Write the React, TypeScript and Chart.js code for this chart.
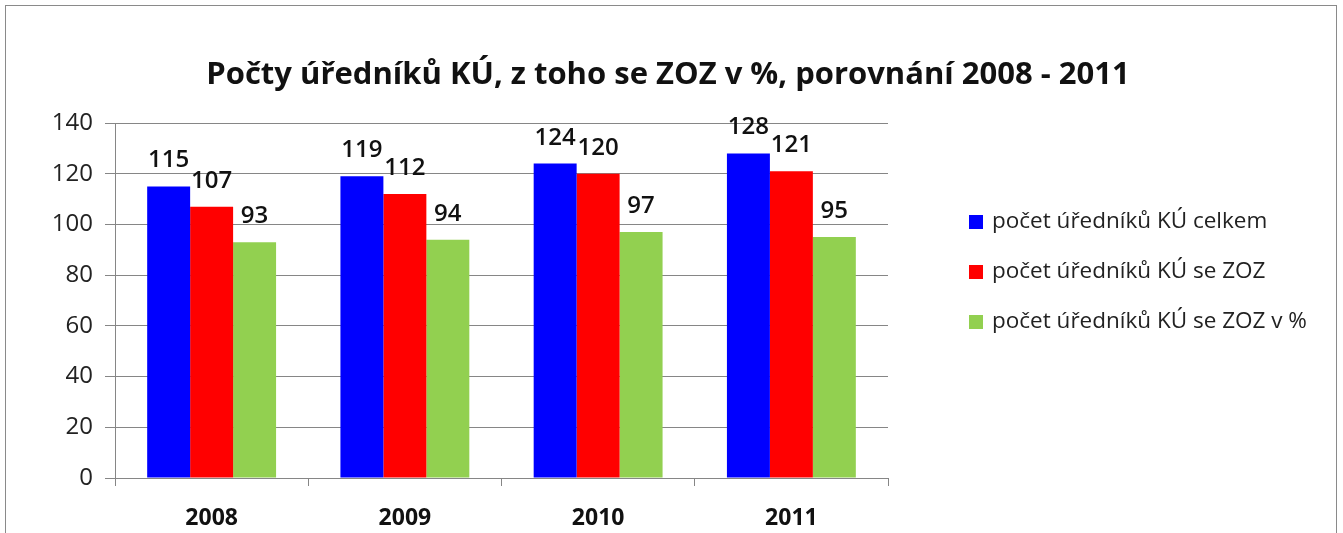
import React, { useEffect, useRef } from "react";
import { Chart, registerables } from "chart.js";

Chart.register(...registerables);

const categories = ["2008", "2009", "2010", "2011"];
const seriesNames = [
  "počet úředníků KÚ celkem",
  "počet úředníků KÚ se ZOZ",
  "počet úředníků KÚ se ZOZ v %",
];
const totalValues = [115, 119, 124, 128];
const zozValues = [107, 112, 120, 121];
const zozPercentValues = [93, 94, 97, 95];
const seriesColors = ["#0000FF", "#FF0000", "#92D050"];
const titleText = "Počty úředníků KÚ, z toho se ZOZ v %, porovnání 2008 - 2011";

const FONT = "'Open Sans', 'DejaVu Sans', sans-serif";

const framePlugin = {
  id: "frame",
  beforeDraw(chart: any) {
    const ctx = chart.ctx;
    ctx.save();
    ctx.fillStyle = "#ffffff";
    ctx.fillRect(0, 0, chart.width, chart.height);
    ctx.strokeStyle = "#8a8a8a";
    ctx.lineWidth = 1;
    ctx.strokeRect(5.5, 5.5, 1331, 560);
    ctx.restore();
  },
};

const titlePlugin = {
  id: "centerTitle",
  afterDraw(chart: any) {
    const ctx = chart.ctx;
    ctx.save();
    ctx.font = `bold 31px ${FONT}`;
    ctx.fillStyle = "#111";
    ctx.textAlign = "center";
    ctx.textBaseline = "alphabetic";
    ctx.fillText(titleText, 668, 84);
    ctx.restore();
  },
};

const labelPlugin = {
  id: "barLabels",
  afterDatasetsDraw(chart: any) {
    const ctx = chart.ctx;
    ctx.save();
    ctx.font = `600 24px ${FONT}`;
    ctx.fillStyle = "#111";
    ctx.textAlign = "center";
    ctx.textBaseline = "alphabetic";
    chart.data.datasets.forEach((ds: any, i: number) => {
      const meta = chart.getDatasetMeta(i);
      meta.data.forEach((bar: any, j: number) => {
        ctx.fillText(String(ds.data[j]), bar.x, bar.y - 19);
      });
    });
    ctx.restore();
  },
};

const legendPlugin = {
  id: "sideLegend",
  afterDraw(chart: any) {
    const ctx = chart.ctx;
    ctx.save();
    ctx.font = `22.5px ${FONT}`;
    ctx.textBaseline = "middle";
    ctx.textAlign = "left";
    chart.data.datasets.forEach((ds: any, i: number) => {
      const cy = 222 + i * 50;
      ctx.fillStyle = ds.backgroundColor;
      ctx.fillRect(969, cy - 7, 14, 14);
      ctx.fillStyle = "#222";
      ctx.fillText(ds.label, 992, cy);
    });
    ctx.restore();
  },
};

export default function App() {
  const ref = useRef<HTMLCanvasElement>(null);
  useEffect(() => {
    if (!ref.current) return;
    const chart = new Chart(ref.current, {
      type: "bar",
      data: {
        labels: categories,
        datasets: [
          { label: seriesNames[0], data: totalValues, backgroundColor: seriesColors[0] },
          { label: seriesNames[1], data: zozValues, backgroundColor: seriesColors[1] },
          { label: seriesNames[2], data: zozPercentValues, backgroundColor: seriesColors[2] },
        ],
      },
      options: {
        animation: false,
        responsive: false,
        devicePixelRatio: 1,
        layout: { padding: { left: 0, right: 455, top: 123, bottom: 0 } },
        datasets: { bar: { categoryPercentage: 0.667, barPercentage: 1 } },
        plugins: {
          legend: { display: false },
          tooltip: { enabled: false },
          title: { display: false },
        },
        scales: {
          x: {
            grid: {
              offset: true,
              drawOnChartArea: false,
              drawTicks: true,
              tickLength: 8,
              color: "#868686",
            },
            border: { color: "#868686" },
            ticks: {
              color: "#111",
              font: { family: FONT, size: 23, weight: "bold" },
              padding: 19,
            },
            afterFit: (s: any) => {
              s.height = 55;
            },
          },
          y: {
            min: 0,
            max: 140,
            ticks: {
              stepSize: 20,
              color: "#222",
              font: { family: FONT, size: 24 },
              padding: 12,
            },
            grid: { color: "#868686", tickLength: 10 },
            border: { color: "#868686" },
            afterFit: (s: any) => {
              s.width = 115;
            },
          },
        },
      },
      plugins: [framePlugin, titlePlugin, labelPlugin, legendPlugin],
    });
    return () => chart.destroy();
  }, []);
  return (
    <div style={{ position: "absolute", left: 0, top: 0, width: 1343, height: 533 }}>
      <canvas ref={ref} width={1343} height={533} />
    </div>
  );
}
